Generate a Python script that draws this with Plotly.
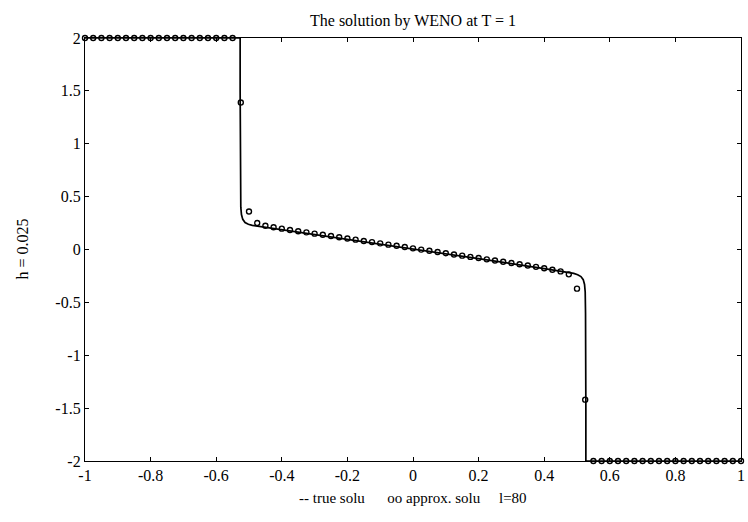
import plotly.graph_objects as go

# approximate (WENO) solution, grid nodes x = -1 + 0.025*i
approx_x = [round(-1 + 0.025 * i, 4) for i in range(81)]
approx_left = [2.0] * 19
approx_shock_left = [1.39, 0.36]
approx_mid = [0.250, 0.225, 0.210, 0.197, 0.185, 0.173, 0.162, 0.150, 0.139, 0.127,
              0.116, 0.104, 0.093, 0.081, 0.070, 0.058, 0.046, 0.035, 0.023, 0.011,
              -0.001, -0.012, -0.024, -0.035, -0.047, -0.058, -0.070, -0.081, -0.093, -0.104,
              -0.116, -0.128, -0.140, -0.152, -0.164, -0.177, -0.191, -0.207, -0.235]
approx_shock_right = [-0.37, -1.42]
approx_right = [-2.0] * 19
approx_y = approx_left + approx_shock_left + approx_mid + approx_shock_right + approx_right

# true solution curve
true_x = [-1.0, -0.527, -0.527, -0.526, -0.525, -0.523, -0.519, -0.512, -0.502, -0.49, -0.47,
          -0.4, -0.2, 0.0, 0.2, 0.4, 0.47, 0.49, 0.502, 0.512, 0.519, 0.523, 0.525, 0.526,
          0.527, 0.527, 1.0]
true_y = [2.0, 2.0, 1.5, 0.6, 0.4, 0.33, 0.285, 0.255, 0.238, 0.228, 0.219,
          0.188, 0.097, 0.006, -0.087, -0.180, -0.214, -0.226, -0.238, -0.256, -0.285, -0.33,
          -0.4, -0.6, -1.5, -2.0, -2.0]

x_ticks = [-1, -0.8, -0.6, -0.4, -0.2, 0, 0.2, 0.4, 0.6, 0.8, 1]
x_ticktext = ["-1", "-0.8", "-0.6", "-0.4", "-0.2", "0", "0.2", "0.4", "0.6", "0.8", "1"]
y_ticks = [-2, -1.5, -1, -0.5, 0, 0.5, 1, 1.5, 2]
y_ticktext = ["-2", "-1.5", "-1", "-0.5", "0", "0.5", "1", "1.5", "2"]

FONT = "Liberation Serif"

fig = go.Figure()
fig.add_trace(go.Scatter(x=true_x, y=true_y, mode="lines",
                         line=dict(color="black", width=1.7), showlegend=False))
fig.add_trace(go.Scatter(x=approx_x, y=approx_y, mode="markers",
                         marker=dict(symbol="circle-open", size=5, color="black",
                                     line=dict(width=1.4, color="black")),
                         showlegend=False, cliponaxis=False))

axis_common = dict(showgrid=False, zeroline=False, showline=True, linecolor="black",
                   linewidth=1.2, mirror="allticks", ticks="inside", ticklen=4,
                   tickcolor="black", tickwidth=1, ticklabeloverflow="allow",
                   tickfont=dict(family=FONT, size=16, color="black"))

fig.update_xaxes(range=[-1, 1], tickmode="array", tickvals=x_ticks, ticktext=x_ticktext,
                 **axis_common)
fig.update_yaxes(range=[-2, 2], tickmode="array", tickvals=y_ticks, ticktext=y_ticktext,
                 **axis_common)

fig.update_layout(
    width=748, height=522,
    margin=dict(l=85, r=3, t=38, b=61),
    paper_bgcolor="white", plot_bgcolor="white",
    font=dict(family=FONT, color="black"),
    annotations=[
        dict(text="The solution by WENO at T = 1", xref="paper", yref="paper",
             x=0.5, y=1, yshift=6, xanchor="center", yanchor="bottom", showarrow=False,
             font=dict(family=FONT, size=16, color="black")),
        dict(text="-- true solu&nbsp;&nbsp;&nbsp;&nbsp;&nbsp;&nbsp;oo approx. solu&nbsp;&nbsp;&nbsp;&nbsp;&nbsp;l=80",
             xref="paper", yref="paper", x=0.5, y=0, yshift=-37, xanchor="center",
             yanchor="middle", showarrow=False,
             font=dict(family=FONT, size=15, color="black")),
        dict(text="h = 0.025", xref="paper", yref="paper", x=0, xshift=-63, y=0.5,
             textangle=-90, xanchor="center", yanchor="middle", showarrow=False,
             font=dict(family=FONT, size=16, color="black")),
    ],
)

fig.write_html("out.html")
